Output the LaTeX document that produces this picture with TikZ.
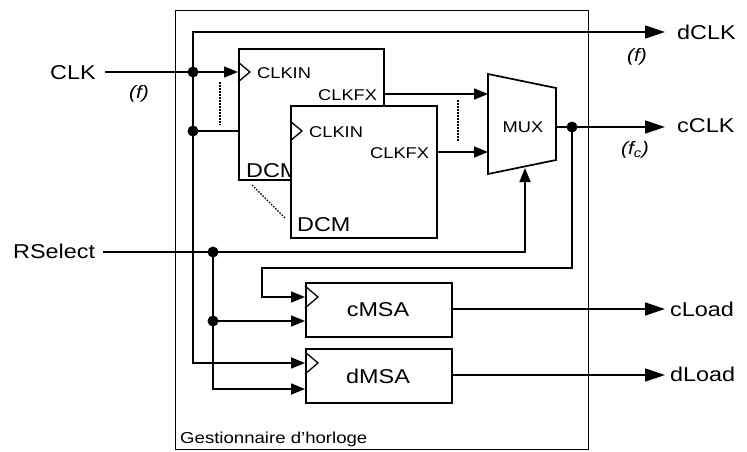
\documentclass[tikz,border=0pt]{standalone}
\usepackage{fontspec}
\setmainfont{Liberation Sans}[FakeStretch=1.17]
\usetikzlibrary{arrows.meta}
\begin{document}
\begin{tikzpicture}[x=1pt,y=-1pt,
  wire/.style={line width=1.7pt},
  arr/.style={wire,-{Triangle[length=14pt,width=11pt]}},
  bigarr/.style={wire,-{Triangle[length=20pt,width=13pt]}},
  blk/.style={draw,line width=1.7pt,fill=white,inner sep=0pt,anchor=north west},
  clkmark/.style={line width=1.3pt},
  jdot/.style={circle,fill,inner sep=0pt,minimum size=11pt},
  big/.style={font=\fontsize{20}{20}\selectfont,inner sep=0pt},
  small/.style={font=\fontsize{15.6}{16}\selectfont,inner sep=0pt},
  freq/.style={font=\fontsize{18}{18}\selectfont\itshape,inner sep=0pt},
  dotline/.style={line width=1.3pt,dash pattern=on 1.5pt off 1.5pt}]

\useasboundingbox (0,0) rectangle (747,451);

% outer box
\node[draw,line width=1.3pt,inner sep=0pt,minimum width=413pt,minimum height=439pt,anchor=north west] (gest) at (175,10) {};
\node[font=\fontsize{15.9}{16}\selectfont,inner sep=0pt,anchor=base west] (gestlbl) at (180,443) {Gestionnaire d’horloge};

% external labels
\node[big,anchor=base west] (clk) at (50,79) {CLK};
\node[big,anchor=base west] (rsel) at (13,258) {RSelect};
\node[big,anchor=base west] (dclk) at (677,39) {dCLK};
\node[big,anchor=base west] (cclk) at (677,132) {cCLK};
\node[big,anchor=base west] (cload) at (670,316) {cLoad};
\node[big,anchor=base west] (dload) at (670,381) {dLoad};
\node[freq] (f1) at (139,94) {(f)};
\node[freq] (f2) at (637,57) {(f)};
\node[freq] (f3) at (635,150) {(f\textsubscript{c})};

% junction / port coordinates
\coordinate (clkw) at (105,72);
\coordinate (j1) at (193,72);
\coordinate (j2) at (193,131);
\coordinate (jtop) at (193,32);
\coordinate (jbot) at (193,363);
\coordinate (dclkp) at (665,32);
\coordinate (dcm1in) at (238,72);
\coordinate (dcm2in) at (290,131);
\coordinate (dcm1out) at (383,94);
\coordinate (dcm2out) at (436,152);
\coordinate (muxin1) at (488,94);
\coordinate (muxin2) at (488,152);
\coordinate (muxout) at (556,127);
\coordinate (j3) at (572,127);
\coordinate (cclkp) at (665,127);
\coordinate (fb1) at (572,268);
\coordinate (fb2) at (262,268);
\coordinate (fb3) at (262,297);
\coordinate (cmsaclk) at (305,297);
\coordinate (cmsad) at (305,321);
\coordinate (dmsaclk) at (305,363);
\coordinate (dmsad) at (305,389);
\coordinate (rsw) at (103,252);
\coordinate (j4) at (213,252);
\coordinate (rs1) at (525,252);
\coordinate (muxsel) at (525,168);
\coordinate (j5) at (213,321);
\coordinate (rs2) at (213,389);
\coordinate (cmsaout) at (451,309);
\coordinate (dmsaout) at (451,375);
\coordinate (cloadp) at (665,309);
\coordinate (dloadp) at (665,375);

% wires
\draw[wire] (clkw) -- (j1);
\draw[arr] (j1) -- (dcm1in);
\draw[arr] (j2) -- (dcm2in);
\draw[wire,{Triangle[length=14pt,width=11pt]}-{Triangle[length=20pt,width=13pt]}]
  (dmsaclk) -- (jbot) -- (jtop) -- (dclkp);
\draw[arr] (dcm1out) -- (muxin1);
\draw[arr] (dcm2out) -- (muxin2);
\draw[wire] (muxout) -- (j3);
\draw[bigarr] (j3) -- (cclkp);
\draw[arr] (j3) -- (fb1) -- (fb2) -- (fb3) -- (cmsaclk);
\draw[arr] (rsw) -- (j4) -- (rs1) -- (muxsel);
\draw[arr] (j4) -- (rs2) -- (dmsad);
\draw[arr] (j5) -- (cmsad);
\draw[bigarr] (cmsaout) -- (cloadp);
\draw[bigarr] (dmsaout) -- (dloadp);

% DCM 1
\node[blk,minimum width=145pt,minimum height=131pt] (dcm1) at (238,48) {};
\draw[clkmark] (238,62) -- (250,72) -- (238,82);
\node[small,anchor=base west] (dcm1clkin) at (257,78) {CLKIN};
\node[small,anchor=base west] (dcm1clkfx) at (318,100) {CLKFX};
\node[big,anchor=base west] (dcm1lbl) at (246,177) {DCM};

% DCM 2
\node[blk,minimum width=146pt,minimum height=132pt] (dcm2) at (290,105) {};
\draw[clkmark] (290,121) -- (302,131) -- (290,141);
\node[small,anchor=base west] (dcm2clkin) at (309,137) {CLKIN};
\node[small,anchor=base west] (dcm2clkfx) at (370,158) {CLKFX};
\node[big,anchor=base west] (dcm2lbl) at (297,231) {DCM};

% dotted hints
\draw[dotline] (220,82) -- (220,125);
\draw[dotline] (252,185) -- (285,218);
\draw[dotline] (458,100) -- (458,142);

% MUX
\coordinate (m1) at (488,74);
\coordinate (m2) at (556,88);
\coordinate (m3) at (556,160);
\coordinate (m4) at (488,174);
\draw[line width=1.7pt,fill=white,line join=miter] (m1) -- (m2) -- (m3) -- (m4) -- cycle;
\node[small,anchor=base] (mux) at (523,132) {MUX};

% MSA blocks
\node[blk,minimum width=146pt,minimum height=54pt] (cmsa) at (305,282) {};
\draw[clkmark] (305,286) -- (318,297) -- (305,308);
\node[big] (cmsalbl) at (378,310) {cMSA};
\node[blk,minimum width=146pt,minimum height=54pt] (dmsa) at (305,348) {};
\draw[clkmark] (305,352) -- (318,363) -- (305,374);
\node[big] (dmsalbl) at (378,376) {dMSA};

% junction dots
\node[jdot] at (j1) {};
\node[jdot] at (j2) {};
\node[jdot] at (j3) {};
\node[jdot] at (j4) {};
\node[jdot] at (j5) {};
\end{tikzpicture}
\end{document}
